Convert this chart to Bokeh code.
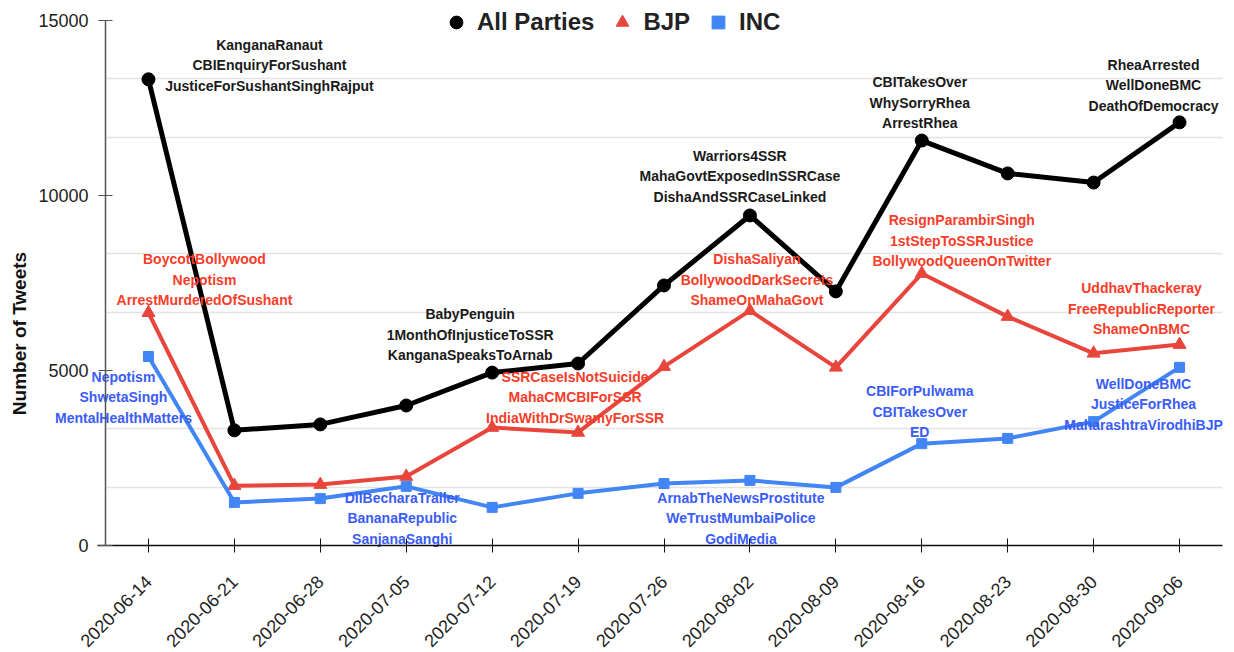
import math
from bokeh.plotting import figure
from bokeh.models import (Range1d, FixedTicker, Legend, LegendItem, Label, ColumnDataSource,
                          LinearAxis, Grid)
from bokeh.core.properties import value
from bokeh.embed import file_html
from bokeh.resources import INLINE

# ---------------- data ----------------
weeks = ["2020-06-14", "2020-06-21", "2020-06-28", "2020-07-05", "2020-07-12",
         "2020-07-19", "2020-07-26", "2020-08-02", "2020-08-09", "2020-08-16",
         "2020-08-23", "2020-08-30", "2020-09-06"]
all_parties = [13320, 3290, 3460, 4000, 4940, 5200, 7430, 9430, 7260, 11570, 10630, 10370, 12090]
bjp = [6650, 1710, 1740, 1970, 3370, 3230, 5110, 6710, 5090, 7770, 6540, 5490, 5740]
inc = [5400, 1230, 1340, 1690, 1090, 1490, 1770, 1860, 1660, 2910, 3060, 3540, 5090]
y_ticks = [0, 5000, 10000, 15000]

all_tag_weeks = [0, 4, 7, 9, 12]
all_tags = ["KanganaRanaut\nCBIEnquiryForSushant\nJusticeForSushantSinghRajput",
            "BabyPenguin\n1MonthOfInjusticeToSSR\nKanganaSpeaksToArnab",
            "Warriors4SSR\nMahaGovtExposedInSSRCase\nDishaAndSSRCaseLinked",
            "CBITakesOver\nWhySorryRhea\nArrestRhea",
            "RheaArrested\nWellDoneBMC\nDeathOfDemocracy"]
bjp_tag_weeks = [0, 5, 7, 9, 12]
bjp_tags = ["BoycottBollywood\nNepotism\nArrestMurderedOfSushant",
            "SSRCaseIsNotSuicide\nMahaCMCBIForSSR\nIndiaWithDrSwamyForSSR",
            "DishaSaliyan\nBollywoodDarkSecrets\nShameOnMahaGovt",
            "ResignParambirSingh\n1stStepToSSRJustice\nBollywoodQueenOnTwitter",
            "UddhavThackeray\nFreeRepublicReporter\nShameOnBMC"]
inc_tag_weeks = [0, 3, 7, 9, 12]
inc_tags = ["Nepotism\nShwetaSingh\nMentalHealthMatters",
            "DilBecharaTrailer\nBananaRepublic\nSanjanaSanghi",
            "ArnabTheNewsProstitute\nWeTrustMumbaiPolice\nGodiMedia",
            "CBIForPulwama\nCBITakesOver\nED",
            "WellDoneBMC\nJusticeForRhea\nMaharashtraVirodhiBJP"]

# label placement (pixel offsets from the point: layout, not data)
all_dx = [121, -22, -10, -2, -26]
all_dy = [-14, -38, -39, -38, -37]
bjp_dx = [56, -3, 7, 40, -38]
bjp_dy = [-33, -35, -31, -33, -36]
inc_dx = [-25, -4, -9, -2, -36]
inc_dy = [41, 32, 38, -32, 37]

FONT = "Liberation Sans"
BLACK = "#000000"
RED = "#e8453c"
BLUE = "#4285f4"
RED_TXT = "#f73d29"
BLUE_TXT = "#3a5cf8"

# ---------------- layout (pixels) ----------------
W, H = 1234, 652
PLOT_L, PLOT_R, PLOT_T, PLOT_B = 105, 1222, 20, 545   # visible plotting box
n = len(weeks)
x_lo, x_hi = -0.5, n - 0.5
y_lo, y_hi = y_ticks[0], y_ticks[-1]
ppx = (PLOT_R - PLOT_L) / (x_hi - x_lo)
ppy = (PLOT_B - PLOT_T) / (y_hi - y_lo)
x_range = Range1d(x_lo - PLOT_L / ppx, x_hi + (W - PLOT_R) / ppx)
y_range = Range1d(y_lo - (H - PLOT_B) / ppy, y_hi + PLOT_T / ppy)

x = list(range(n))

p = figure(width=W, height=H, x_range=x_range, y_range=y_range,
           x_axis_location=None, y_axis_location=None,
           output_backend="svg", toolbar_location=None,
           min_border_left=0, min_border_right=0, min_border_top=0, min_border_bottom=0)
p.outline_line_color = None
p.background_fill_color = "white"
p.border_fill_color = "white"
p.xgrid.visible = False
p.ygrid.visible = False

minor = [y_lo + (y_hi - y_lo) / 9 * i for i in range(10) if i % 3]
yticker = FixedTicker(ticks=y_ticks, minor_ticks=minor)

ygrid = Grid(dimension=1, ticker=yticker, grid_line_color=None,
             minor_grid_line_color="#e3e3e3", minor_grid_line_width=1.5,
             bounds=(y_lo, y_hi), cross_bounds=(x_lo, x_hi))
p.add_layout(ygrid)

yaxis = LinearAxis(fixed_location=x_lo, bounds=(y_lo, y_hi), ticker=yticker,
                   major_label_text_font=FONT, major_label_text_font_size="18px",
                   major_label_text_color="#222222", axis_line_color="#555555",
                   axis_line_width=1.5, major_tick_line_color="#555555",
                   major_tick_in=7, major_tick_out=7, minor_tick_line_color=None,
                   major_label_standoff=10)
p.add_layout(yaxis, "left")

xaxis = LinearAxis(fixed_location=y_lo, bounds=(x_lo - 8 / ppx, x_hi), ticker=FixedTicker(ticks=x),
                   major_label_overrides={i: w for i, w in enumerate(weeks)},
                   major_label_orientation=math.pi / 4,
                   major_label_text_font=FONT, major_label_text_font_size="18px",
                   major_label_text_color="#222222", axis_line_color="#111111",
                   axis_line_width=1.5, major_tick_line_color="#111111",
                   major_tick_in=7, major_tick_out=7, minor_tick_line_color=None,
                   major_label_standoff=26)
p.add_layout(xaxis, "below")

# y-axis title
p.add_layout(Label(x=19, y=H - 333, x_units="screen", y_units="screen", text="Number of Tweets",
                   angle=math.pi / 2, text_align="center", text_baseline="middle",
                   text_font=FONT, text_font_style="bold", text_font_size="19px",
                   text_color="#111111"))

# series
p.line(x, all_parties, line_color=BLACK, line_width=5)
r_all = p.scatter(x, all_parties, marker="circle", size=13, fill_color=BLACK, line_color=BLACK)
p.line(x, bjp, line_color=RED, line_width=4)
r_bjp = p.scatter(x, bjp, marker="triangle", size=13, fill_color=RED, line_color=RED)
p.line(x, inc, line_color=BLUE, line_width=4)
r_inc = p.scatter(x, inc, marker="square", size=10, fill_color=BLUE, line_color=BLUE)


def add_tags(weeks_idx, tags, series, dx, dy, color):
    src = ColumnDataSource(dict(x=weeks_idx, y=[series[i] for i in weeks_idx],
                                text=tags, dx=dx, dy=dy))
    p.text(x="x", y="y", text="text", x_offset="dx", y_offset="dy", source=src,
           text_align="center", text_baseline="middle", text_font=value(FONT),
           text_font_style="bold", text_font_size="14px", text_line_height=1.28,
           text_color=color)


add_tags(all_tag_weeks, all_tags, all_parties, all_dx, all_dy, "#1a1a1a")
add_tags(bjp_tag_weeks, bjp_tags, bjp, bjp_dx, bjp_dy, RED_TXT)
add_tags(inc_tag_weeks, inc_tags, inc, inc_dx, inc_dy, BLUE_TXT)

legend = Legend(items=[LegendItem(label="All Parties", renderers=[r_all]),
                       LegendItem(label="BJP", renderers=[r_bjp]),
                       LegendItem(label="INC", renderers=[r_inc])],
                location=(440, H - 38), orientation="horizontal",
                label_text_font=FONT, label_text_font_style="bold", label_text_font_size="24px",
                label_text_color="#222222", glyph_width=32, glyph_height=32,
                label_standoff=5, spacing=12, padding=0, margin=0,
                border_line_color=None, background_fill_alpha=0)
p.add_layout(legend, "center")

open("out.html", "w").write(file_html(p, INLINE))
